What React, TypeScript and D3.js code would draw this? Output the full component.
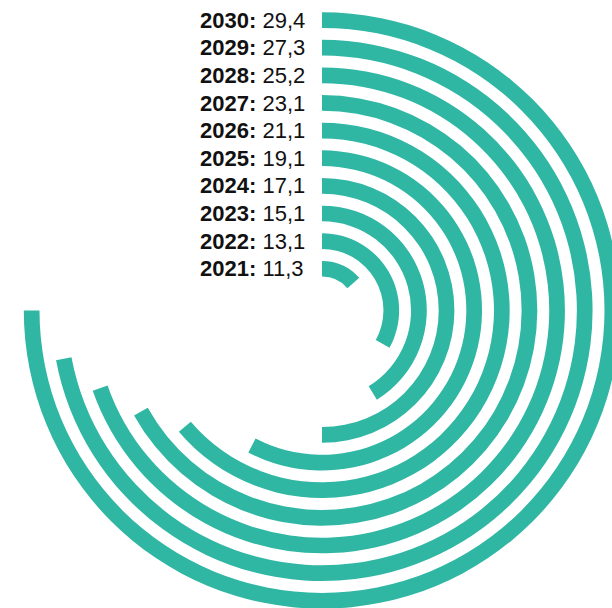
import React from "react";
import * as d3 from "d3";

// Data
const years = ["2021", "2022", "2023", "2024", "2025", "2026", "2027", "2028", "2029", "2030"];
const values = [11.3, 13.1, 15.1, 17.1, 19.1, 21.1, 23.1, 25.2, 27.3, 29.4];
// Angular extent of each ring as drawn in the picture (degrees, clockwise from 12 o'clock)
const arcDegrees = [48.8, 118.9, 148.4, 180, 207.4, 229.7, 240.8, 250.7, 259.4, 270];

const WIDTH = 612;
const HEIGHT = 608;
const CX = 322;
const CY = 310.4;
const COLOR = "#2fb7a3";

const fmtLocale = d3.formatLocale({ decimal: ",", thousands: ".", grouping: [3], currency: ["", ""] });
const fmt = fmtLocale.format(".1f");

export default function App() {
  const radius = d3
    .scaleBand<string>()
    .domain(years)
    .range([33.8, 298.2])
    .paddingInner(0.432)
    .paddingOuter(0);

  const angle = d3.scaleLinear().domain([0, 360]).range([0, 2 * Math.PI]);

  const arc = d3.arc<{ year: string; deg: number }>()
    .innerRadius((d) => radius(d.year) as number)
    .outerRadius((d) => (radius(d.year) as number) + radius.bandwidth())
    .startAngle(0)
    .endAngle((d) => angle(d.deg));

  const rows = years.map((year, i) => ({ year, value: values[i], deg: arcDegrees[i] }));

  return (
    <svg
      width={WIDTH}
      height={HEIGHT}
      style={{ position: "absolute", left: 0, top: 0, display: "block", background: "#fff" }}
    >
      <g transform={`translate(${CX},${CY})`}>
        {rows.map((d) => (
          <path key={d.year} d={arc(d) || ""} fill={COLOR} />
        ))}
      </g>
      <g fontFamily="'Liberation Sans', Arial, sans-serif" fontSize={22} fill="#111">
        {rows.map((d) => {
          const rc = (radius(d.year) as number) + radius.bandwidth() / 2;
          return (
            <text key={d.year} x={200} y={CY - rc + 7.6} textAnchor="start">
              <tspan fontWeight="bold">{d.year}:</tspan>
              <tspan> {fmt(d.value)}</tspan>
            </text>
          );
        })}
      </g>
    </svg>
  );
}
